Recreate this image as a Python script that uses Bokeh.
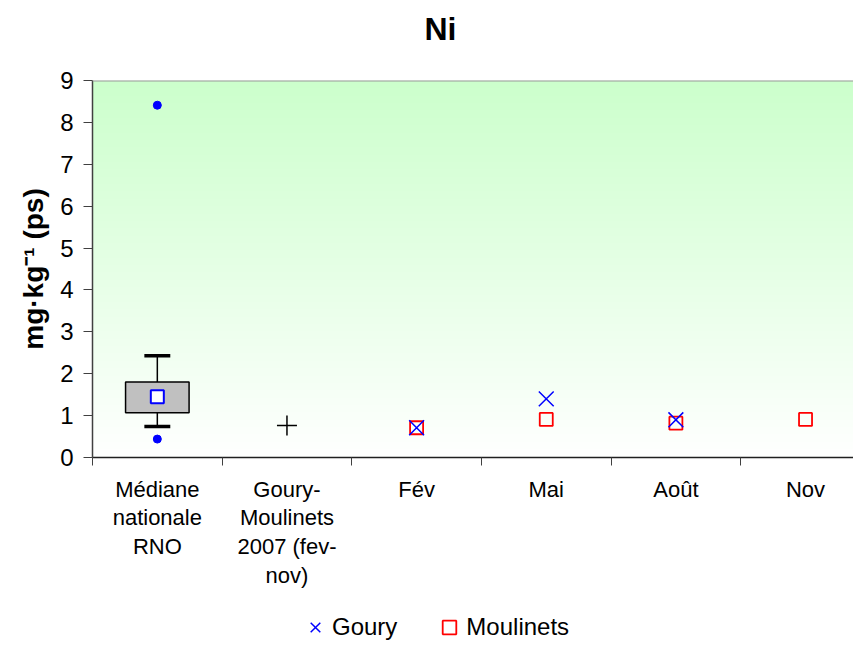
import numpy as np
from bokeh.plotting import figure
from bokeh.layouts import column
from bokeh.models import Range1d, FixedTicker, Span, Legend, LegendItem, Label
from bokeh.embed import file_html
from bokeh.resources import INLINE

# ---- data ----
cat_keys = ["Médiane nationale RNO", "Goury-Moulinets 2007 (fev-nov)", "Fév", "Mai", "Août", "Nov"]
cat_labels = ["Médiane\nnationale\nRNO", "Goury-\nMoulinets\n2007 (fev-\nnov)", "Fév", "Mai", "Août", "Nov"]
y_ticks = [0, 1, 2, 3, 4, 5, 6, 7, 8, 9]

# national median box (RNO)
box_q1 = 1.07
box_q3 = 1.80
whisker_low = 0.74
whisker_high = 2.43
box_mean = 1.45
outliers = [0.44, 8.41]

# Goury-Moulinets 2007 reference
ref_2007 = [0.765]

goury_months = ["Fév", "Mai", "Août"]
goury_values = [0.71, 1.40, 0.90]
moulinets_months = ["Fév", "Mai", "Août", "Nov"]
moulinets_values = [0.71, 0.91, 0.82, 0.91]

# ---- layout ----
FONT = "Liberation Sans"
X_END = 5.87
W = 853
TOP_H = 65
LEG_H = 40
MAIN_H = 644 - LEG_H - TOP_H
pos = {k: i + 0.5 for i, k in enumerate(cat_keys)}

# title strip
t = figure(width=W, height=TOP_H, output_backend="svg", toolbar_location=None,
           x_range=Range1d(0, 1), y_range=Range1d(0, 1),
           min_border_left=0, min_border_right=0, min_border_top=0, min_border_bottom=0)
t.axis.visible = False
t.grid.visible = False
t.outline_line_color = None
t.add_layout(Label(x=348, y=37, x_units="screen", y_units="screen", text="Ni",
                   text_font=FONT, text_font_size="32px", text_font_style="bold",
                   text_color="black", text_align="center", text_baseline="alphabetic"))

p = figure(width=W, height=MAIN_H, output_backend="svg", toolbar_location=None,
           x_range=Range1d(0, X_END), y_range=Range1d(0, 9),
           min_border_left=92, min_border_right=0, min_border_top=15,
           min_border_bottom=MAIN_H - 15 - 377)
p.grid.visible = False
p.outline_line_color = None
p.background_fill_color = "white"

# gradient background
n = 256
tt = np.linspace(0, 1, n)
img = np.empty((n, 1), dtype=np.uint32)
v = img.view(dtype=np.uint8).reshape((n, 1, 4))
v[:, 0, 0] = (255 - 51 * tt).astype(np.uint8)
v[:, 0, 1] = 255
v[:, 0, 2] = (255 - 51 * tt).astype(np.uint8)
v[:, 0, 3] = 255
p.image_rgba(image=[img], x=0, y=0, dw=X_END, dh=9)
p.add_layout(Span(location=9, dimension="width", line_color="#999999", line_width=2))

# y axis
p.yaxis.ticker = FixedTicker(ticks=y_ticks, minor_ticks=[])
p.yaxis.major_label_text_font = FONT
p.yaxis.major_label_text_font_size = "24px"
p.yaxis.major_label_text_color = "black"
p.yaxis.major_tick_out = 9
p.yaxis.major_tick_in = 0
p.yaxis.major_label_standoff = 10
p.yaxis.axis_line_color = "#404040"
p.yaxis.axis_line_width = 1.5
p.yaxis.major_tick_line_color = "#404040"
p.yaxis.axis_label = "mg·kg⁻¹ (ps)"
p.yaxis.axis_label_text_font = FONT
p.yaxis.axis_label_text_font_size = "28px"
p.yaxis.axis_label_text_font_style = "bold"
p.yaxis.axis_label_text_color = "black"
p.yaxis.axis_label_standoff = 8

# x axis
p.xaxis.ticker = FixedTicker(ticks=[pos[k] for k in cat_keys], minor_ticks=list(range(7)))
p.xaxis.major_label_overrides = {pos[k]: lab for k, lab in zip(cat_keys, cat_labels)}
p.xaxis.major_label_text_font = FONT
p.xaxis.major_label_text_font_size = "22px"
p.xaxis.major_label_text_color = "black"
p.xaxis.major_label_text_line_height = 1.15
p.xaxis.major_tick_out = 0
p.xaxis.major_tick_in = 0
p.xaxis.minor_tick_out = 8
p.xaxis.minor_tick_in = 0
p.xaxis.minor_tick_line_color = "#404040"
p.xaxis.axis_line_color = "#202020"
p.xaxis.axis_line_width = 1.5
p.xaxis.major_label_standoff = 11

# box plot
x0 = pos[cat_keys[0]]
p.quad(left=x0 - 0.245, right=x0 + 0.245, bottom=box_q1, top=box_q3,
       fill_color="#C0C0C0", line_color="black", line_width=1.5)
p.segment(x0=[x0, x0], y0=[box_q3, box_q1], x1=[x0, x0], y1=[whisker_high, whisker_low],
          line_color="black", line_width=1.5)
p.segment(x0=[x0 - 0.1, x0 - 0.1], y0=[whisker_high, whisker_low],
          x1=[x0 + 0.1, x0 + 0.1], y1=[whisker_high, whisker_low],
          line_color="black", line_width=3.5)
p.scatter(x=[x0], y=[box_mean], marker="square", size=13, fill_color="white",
          line_color="blue", line_width=2)
p.scatter(x=[x0] * len(outliers), y=outliers, marker="circle", size=8,
          fill_color="blue", line_color="blue")

# 2007 reference
p.scatter(x=[pos[cat_keys[1]]] * len(ref_2007), y=ref_2007, marker="cross", size=20,
          line_color="black", line_width=1.5)

# series
rm = p.scatter(x=[pos[m] for m in moulinets_months], y=moulinets_values, marker="square",
               size=13, fill_color=None, line_color="red", line_width=1.8)
rg = p.scatter(x=[pos[m] for m in goury_months], y=goury_values, marker="x",
               size=21, line_color="blue", line_width=1.5)

# legend strip below the chart (series repeated out of view, only for the legend keys)
q = figure(width=W, height=LEG_H, output_backend="svg", toolbar_location=None,
           x_range=Range1d(0, X_END), y_range=Range1d(100, 101),
           min_border_left=0, min_border_right=0, min_border_top=0, min_border_bottom=0)
q.axis.visible = False
q.grid.visible = False
q.outline_line_color = None
lg = q.scatter(x=[pos[m] for m in goury_months], y=goury_values, marker="x",
               line_color="blue", line_width=1.5)
lm = q.scatter(x=[pos[m] for m in moulinets_months], y=moulinets_values, marker="square",
               fill_color=None, line_color="red", line_width=1.8)
legend = Legend(items=[LegendItem(label="Goury", renderers=[lg]),
                       LegendItem(label="Moulinets", renderers=[lm])],
                orientation="horizontal", location=(206, 0),
                label_text_font=FONT, label_text_font_size="24px", label_text_color="black",
                glyph_width=34, glyph_height=34, spacing=35,
                label_standoff=0, padding=0, margin=0,
                border_line_color=None, background_fill_alpha=0)
q.add_layout(legend)

layout = column(t, p, q, spacing=0)
open("out.html", "w").write(file_html(layout, INLINE))
